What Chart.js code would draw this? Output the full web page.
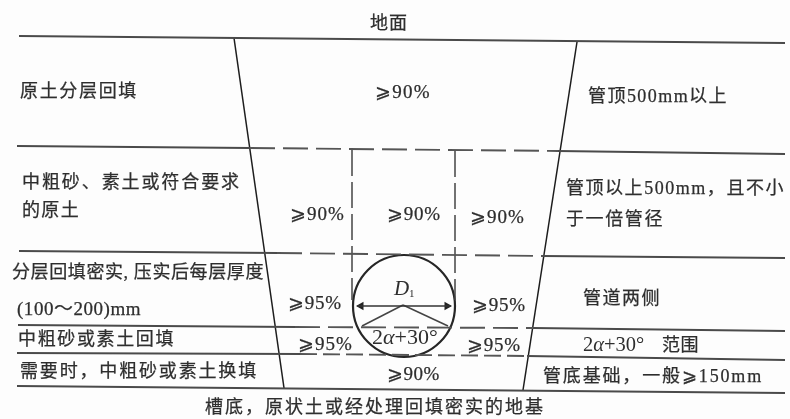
<!DOCTYPE html>
<html><head><meta charset="utf-8">
<script src="https://cdn.jsdelivr.net/npm/chart.js@4/dist/chart.umd.min.js"></script>
<style>html,body{margin:0;padding:0;background:#fdfdfd}#w{width:790px;height:419px;position:relative}canvas{filter:blur(.55px)}</style>
</head><body><div id="w"><canvas id="c"></canvas></div>
<script>
// Layer boundaries: solid-left, dashed-middle, solid-right [x1,y1,x2,y2]
const solidLayerLines = [
  [19,36,785,43],[17,146,250,148],[558,151,785,154],[19,251,277,253],[543,256,785,258],
  [18,325,295,327],[533,328,785,331],[17,353,300,354],[527,356,785,360],[17,386,785,393]
];
const dashedLongLines = [[250,148,558,151],[277,253,543,256],[295,327,533,328]];
const dashedShortLines = [[300,354,527,356]];
const trenchWalls = [[234,38,284,388],[577,42,523,390]];
const pipeWallGuides = [[352,150,352,300],[455,151,455,300]];
const pipeCentre = [[404,306]];
const diameterLine = [[357,306,451,306]];
const angleRadii = [[403,305,362,326],[403,305,448,326]];
const arrowLeft = [[361,306]];
const arrowRight = [[447,306]];

const labelTexts = ['地面','原土分层回填','⩾90%','管顶500mm以上','中粗砂、素土或符合要求','的原土','⩾90%','⩾90%','⩾90%',
 '管顶以上500mm，且不小','于一倍管径','分层回填密实, 压实后每层厚度','(100～200)mm','⩾95%','⩾95%','管道两侧',
 '中粗砂或素土回填','⩾95%','⩾95%','范围','需要时，中粗砂或素土换填','⩾90%','管底基础，一般⩾150mm',
 '槽底，原状土或经处理回填密实的地基'];
const labelX = [370,20,375,588,22,22,290,387,470,566,566,12,17,288,472,583,18,298,467,662,20,387,543,205];
const labelY = [24,92.5,93,97,183,211,215,215,218,189,220,273,310.5,304,306,299,340.5,345,346,346,372,375,377,408.5];
const labelW = [38,118,56,140,219,58,55,54,55,219,98,252,124,54,54,78,157,55,54,37,238,53,220,340];
const angleLabels = [['2','α','+30°'],['2','α','+30°']];
const angleX = [372,583];
const angleY = [338,346];
const angleFontPx = [22,20.5];
const subLabel = ['D','1'];
const subLabelX = [394,409];
const subLabelY = [289,294];

const seg = s => [{x:s[0],y:s[1]},{x:s[2],y:s[3]}];
const pts = a => a.map(p=>({x:p[0],y:p[1]}));
const line = (s,color,width,dash) => ({type:'scatter',showLine:true,data:seg(s),borderColor:color,borderWidth:width,borderDash:dash||[],pointRadius:0,fill:false});
const datasets = [
  ...solidLayerLines.map(s=>line(s,'#4a4a4a',1.9)),
  ...dashedLongLines.map(s=>line(s,'#555',1.9,[25,8])),
  ...dashedShortLines.map(s=>line(s,'#555',1.9,[17,6])),
  ...trenchWalls.map(s=>line(s,'#1c1c1c',1.5)),
  ...pipeWallGuides.map(s=>line(s,'#444',1.5,[26,6])),
  ...diameterLine.map(s=>line(s,'#333',1.4)),
  ...angleRadii.map(s=>line(s,'#444',1.5)),
  {type:'scatter',data:pts(pipeCentre),pointStyle:'circle',pointRadius:51,borderColor:'#262626',borderWidth:2.2,backgroundColor:'rgba(0,0,0,0)'},
  {type:'scatter',data:pts(arrowLeft),pointStyle:'triangle',pointRotation:-90,pointRadius:5,backgroundColor:'#222',borderWidth:0},
  {type:'scatter',data:pts(arrowRight),pointStyle:'triangle',pointRotation:90,pointRadius:5,backgroundColor:'#222',borderWidth:0}
];
const FAM = '"Liberation Serif","Noto Sans CJK SC","DejaVu Sans",serif';
const textPlugin = {id:'txt',afterDatasetsDraw(chart){
  const {ctx,scales:{x,y}} = chart;
  ctx.save();ctx.fillStyle='#2e2e2e';ctx.strokeStyle='#2e2e2e';ctx.lineWidth=.25;ctx.textBaseline='middle';ctx.textAlign='left';
  labelTexts.forEach((t,i)=>{
    const latin=/^[⩾(]/.test(t);
    ctx.font=(latin?'19px ':'18px ')+FAM;
    ctx.letterSpacing='0px';
    const m=ctx.measureText(t).width;
    ctx.letterSpacing=((labelW[i]-m)/t.length).toFixed(2)+'px';
    const px=x.getPixelForValue(labelX[i]),py=y.getPixelForValue(labelY[i]);
    ctx.fillText(t,px,py);ctx.strokeText(t,px,py);
  });
  ctx.letterSpacing='0px';
  angleLabels.forEach((parts,i)=>{
    let px=x.getPixelForValue(angleX[i]);const py=y.getPixelForValue(angleY[i]);
    parts.forEach((p,j)=>{
      ctx.font=(j===1?'italic ':'')+angleFontPx[i]+'px '+FAM;
      ctx.fillText(p,px,py);px+=ctx.measureText(p).width;
    });
  });
  ctx.font='italic 21px '+FAM;
  ctx.fillText(subLabel[0],x.getPixelForValue(subLabelX[0]),y.getPixelForValue(subLabelY[0]));
  ctx.font='11px '+FAM;
  ctx.fillText(subLabel[1],x.getPixelForValue(subLabelX[1]),y.getPixelForValue(subLabelY[1]));
  ctx.restore();
}};
new Chart(document.getElementById('c'),{
  type:'scatter',
  data:{datasets},
  options:{responsive:true,maintainAspectRatio:false,animation:false,
    layout:{padding:0,autoPadding:false},
    plugins:{legend:{display:false},tooltip:{enabled:false},title:{display:false}},
    scales:{
      x:{type:'linear',min:0,max:790,display:false},
      y:{type:'linear',min:0,max:419,reverse:true,display:false}
    }},
  plugins:[textPlugin]
});
</script></body></html>
